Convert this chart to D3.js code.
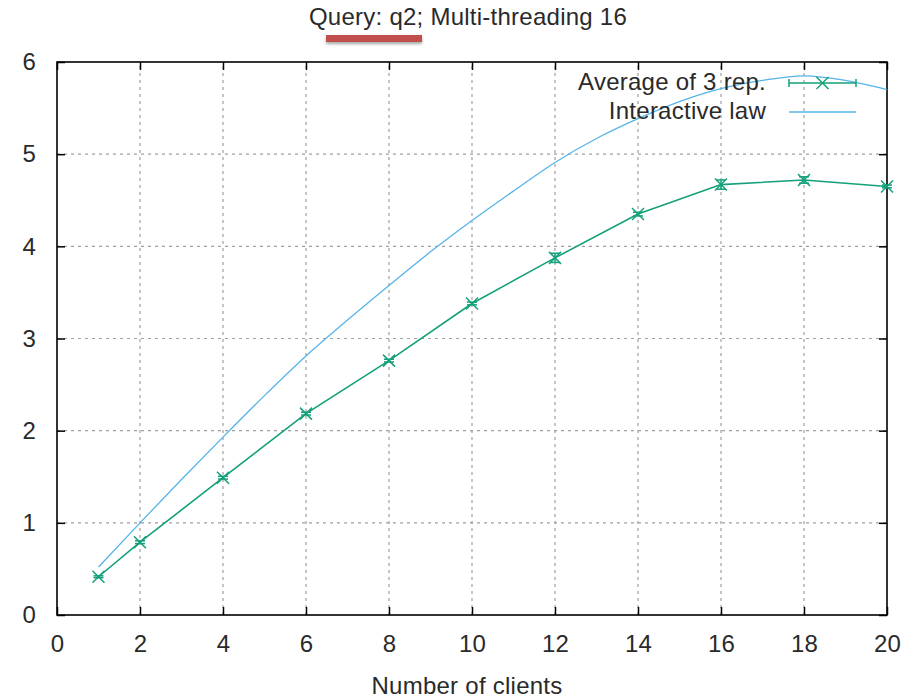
<!DOCTYPE html>
<html>
<head>
<meta charset="utf-8">
<script src="https://cdn.jsdelivr.net/npm/d3@7"></script>
<style>
  html, body { margin: 0; padding: 0; background: #fff; }
  svg { display: block; font-family: "Liberation Sans", Arial, sans-serif; }
</style>
</head>
<body>
<svg id="chart" width="909" height="698"></svg>
<script>
// ---- data ----
const titleText = "Query: q2; Multi-threading 16";
const xLabel = "Number of clients";
const seriesNames = ["Average of 3 rep.", "Interactive law"];

const avgX = [1, 2, 4, 6, 8, 10, 12, 14, 16, 18, 20];
const avgY = [0.415, 0.79, 1.49, 2.185, 2.76, 3.38, 3.875, 4.35, 4.67, 4.72, 4.65];
const avgErr = [0.01, 0.015, 0.015, 0.015, 0.015, 0.015, 0.05, 0.02, 0.05, 0.035, 0.015];

const lawX = [1, 2, 3, 4, 5, 6, 7, 8, 9, 10, 11, 12, 13, 14, 15, 16, 17, 18, 19, 20];
const lawY = [0.52, 1.0, 1.47, 1.93, 2.38, 2.81, 3.2, 3.575, 3.94, 4.28, 4.6, 4.91, 5.17, 5.385, 5.57, 5.71, 5.8, 5.85, 5.8, 5.7];

const xTicks = [0, 2, 4, 6, 8, 10, 12, 14, 16, 18, 20];
const yTicks = [0, 1, 2, 3, 4, 5, 6];

// ---- layout ----
const W = 909, H = 698;
const m = { left: 57, right: 22, top: 62, bottom: 83 };
const green = "#13a07a", blue = "#56b4e9";
const fontSize = 24;
const textCol = "#2a2a2a";
const ls = "0.25px";

const svg = d3.select("#chart");
const x = d3.scaleLinear().domain([0, 20]).range([m.left, W - m.right]);
const y = d3.scaleLinear().domain([0, 6]).range([H - m.bottom, m.top]);

// grid
const grid = svg.append("g");
grid.selectAll(".gx").data(xTicks.slice(1, -1)).join("line")
  .attr("x1", d => x(d)).attr("x2", d => x(d))
  .attr("y1", y(0)).attr("y2", y(6))
  .attr("stroke", "#a0a0a0").attr("stroke-width", 1.2).attr("stroke-dasharray", "3,4");
grid.selectAll(".gy").data(yTicks.slice(1, -1)).join("line")
  .attr("y1", d => y(d)).attr("y2", d => y(d))
  .attr("x1", x(0)).attr("x2", x(20))
  .attr("stroke", "#a0a0a0").attr("stroke-width", 1.2).attr("stroke-dasharray", "3,4");

// axes (ticks inside, mirrored)
const tl = 8;
const fmt = d3.format("d");
const axB = svg.append("g").attr("transform", `translate(0,${y(0)})`)
  .call(d3.axisBottom(x).tickValues(xTicks).tickFormat(fmt).tickSizeInner(-tl).tickSizeOuter(0).tickPadding(20));
const axT = svg.append("g").attr("transform", `translate(0,${y(6)})`)
  .call(d3.axisTop(x).tickValues(xTicks).tickSizeInner(-tl).tickSizeOuter(0).tickFormat(""));
const axL = svg.append("g").attr("transform", `translate(${x(0)},0)`)
  .call(d3.axisLeft(y).tickValues(yTicks).tickFormat(fmt).tickSizeInner(-tl).tickSizeOuter(0).tickPadding(20));
const axR = svg.append("g").attr("transform", `translate(${x(20)},0)`)
  .call(d3.axisRight(y).tickValues(yTicks).tickSizeInner(-tl).tickSizeOuter(0).tickFormat(""));
[axB, axT, axL, axR].forEach(a => {
  a.select(".domain").remove();
  a.selectAll(".tick line").attr("stroke", "#000").attr("stroke-width", 1.5);
  a.selectAll(".tick text").attr("font-size", fontSize).attr("fill", textCol)
    .attr("letter-spacing", ls)
    .attr("font-family", "Liberation Sans, Arial, sans-serif");
});
axB.selectAll(".tick text").attr("dy", "0.71em");
axL.selectAll(".tick text").attr("x", -21);

// border box
svg.append("rect").attr("x", x(0)).attr("y", y(6))
  .attr("width", x(20) - x(0)).attr("height", y(0) - y(6))
  .attr("fill", "none").attr("stroke", "#000").attr("stroke-width", 1.6);

// interactive law line
svg.append("path").datum(lawX.map((d, i) => [d, lawY[i]]))
  .attr("fill", "none").attr("stroke", blue).attr("stroke-width", 1.3)
  .attr("d", d3.line().x(d => x(d[0])).y(d => y(d[1])).curve(d3.curveMonotoneX));

// average line
const avg = avgX.map((d, i) => ({ x: d, y: avgY[i], e: avgErr[i] }));
svg.append("path").datum(avg)
  .attr("fill", "none").attr("stroke", green).attr("stroke-width", 1.6)
  .attr("d", d3.line().x(d => x(d.x)).y(d => y(d.y)));

// error bars
const cap = 5;
const eb = svg.append("g").attr("stroke", green).attr("stroke-width", 1.5);
avg.forEach(d => {
  const cx = x(d.x), y1 = y(d.y - d.e), y2 = y(d.y + d.e);
  eb.append("line").attr("x1", cx).attr("x2", cx).attr("y1", y1).attr("y2", y2);
  eb.append("line").attr("x1", cx - cap).attr("x2", cx + cap).attr("y1", y1).attr("y2", y1);
  eb.append("line").attr("x1", cx - cap).attr("x2", cx + cap).attr("y1", y2).attr("y2", y2);
});

// markers (x crosses)
const ms = 6;
const mk = svg.append("g").attr("stroke", green).attr("stroke-width", 1.5);
function cross(g, cx, cy) {
  g.append("line").attr("x1", cx - ms).attr("x2", cx + ms).attr("y1", cy - ms).attr("y2", cy + ms);
  g.append("line").attr("x1", cx - ms).attr("x2", cx + ms).attr("y1", cy + ms).attr("y2", cy - ms);
}
avg.forEach(d => cross(mk, x(d.x), y(d.y)));

// legend
const lg = svg.append("g");
const textRight = 766, sx1 = 789, sx2 = 856;
const rowY = [83, 112];
lg.append("text").attr("x", textRight).attr("y", rowY[0] + 7).attr("text-anchor", "end")
  .attr("font-size", fontSize).attr("fill", textCol).attr("letter-spacing", ls).text(seriesNames[0]);
lg.append("text").attr("x", textRight).attr("y", rowY[1] + 7).attr("text-anchor", "end")
  .attr("font-size", fontSize).attr("fill", textCol).attr("letter-spacing", ls).text(seriesNames[1]);
const lgG = lg.append("g").attr("stroke", green).attr("stroke-width", 1.5);
lgG.append("line").attr("x1", sx1).attr("x2", sx2).attr("y1", rowY[0]).attr("y2", rowY[0]);
lgG.append("line").attr("x1", sx1).attr("x2", sx1).attr("y1", rowY[0] - 4).attr("y2", rowY[0] + 4);
lgG.append("line").attr("x1", sx2).attr("x2", sx2).attr("y1", rowY[0] - 4).attr("y2", rowY[0] + 4);
cross(lgG, (sx1 + sx2) / 2, rowY[0]);
lg.append("line").attr("x1", sx1).attr("x2", sx2).attr("y1", rowY[1]).attr("y2", rowY[1])
  .attr("stroke", blue).attr("stroke-width", 1.3);

// title
svg.append("text").attr("x", 468).attr("y", 25).attr("text-anchor", "middle")
  .attr("font-size", fontSize).attr("fill", textCol).attr("letter-spacing", ls).text(titleText);

// red underline annotation with shadow
const defs = svg.append("defs");
const f = defs.append("filter").attr("id", "sh").attr("x", "-20%").attr("y", "-50%").attr("width", "140%").attr("height", "300%");
f.append("feDropShadow").attr("dx", 0).attr("dy", 2).attr("stdDeviation", 1.5).attr("flood-color", "#000").attr("flood-opacity", 0.35);
svg.append("rect").attr("x", 326).attr("y", 35).attr("width", 96).attr("height", 7)
  .attr("fill", "#c0504d").attr("filter", "url(#sh)");

// x label
svg.append("text").attr("x", 467).attr("y", 694).attr("text-anchor", "middle")
  .attr("font-size", fontSize).attr("fill", textCol).attr("letter-spacing", ls).text(xLabel);
</script>
</body>
</html>
